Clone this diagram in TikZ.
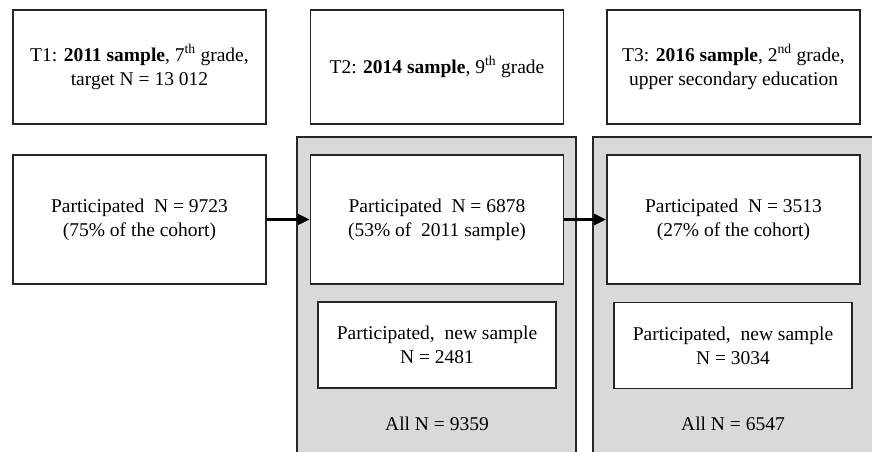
\documentclass[tikz,border=0pt]{standalone}
\usepackage{fontspec}
\setmainfont{Liberation Serif}
\usetikzlibrary{arrows.meta}

\begin{document}
\begin{tikzpicture}[x=1pt,y=-1pt,
    font=\fontsize{19.5}{24}\selectfont,
    box/.style={draw=black!85,line width=1.8pt,fill=white,align=center,
      inner sep=0pt},
    headbox/.style={box,minimum width=253pt,minimum height=114pt},
    partbox/.style={box,minimum width=253pt,minimum height=129pt},
    newbox/.style={box,minimum width=238pt,minimum height=86pt},
    panel/.style={draw=black!85,line width=1.8pt,fill=black!15},
    flow/.style={line width=2.4pt,-{Triangle[length=12pt,width=11pt]}}]
    \useasboundingbox (0,0) rectangle (872,452);
    \clip (0,0) rectangle (872,452);

    \draw[panel] (297,137) rectangle (576,470);
    \draw[panel] (593,137) rectangle (890,470);

    \node[headbox] (t1) at (139.5,67) {T1: \textbf{2011 sample},
      7\textsuperscript{th} grade,\\ target N = 13 012};
    \node[headbox] (t2) at (437,67) {T2: \textbf{2014 sample},
      9\textsuperscript{th} grade};
    \node[headbox] (t3) at (733.5,67) {T3: \textbf{2016 sample},
      2\textsuperscript{nd} grade,\\ upper secondary education};

    \node[partbox] (part1) at (139.5,219.5) {Participated~ N = 9723\\
      (75\% of the cohort)};
    \node[partbox] (part2) at (437,219.5) {Participated~ N = 6878\\
      (53\% of~ 2011 sample)};
    \node[partbox] (part3) at (733.5,219.5) {Participated~ N = 3513\\
      (27\% of the cohort)};

    \node[newbox] (new2) at (437,345) {Participated,~ new sample\\
      N = 2481};
    \node[newbox] (new3) at (733,345.5) {Participated,~ new sample\\
      N = 3034};

    \node (all2) at (437,424) {All N = 9359};
    \node (all3) at (733,424) {All N = 6547};

    \draw[flow] (part1) -- (part2);
    \draw[flow] (part2) -- (part3);
  \end{tikzpicture}
\end{document}
